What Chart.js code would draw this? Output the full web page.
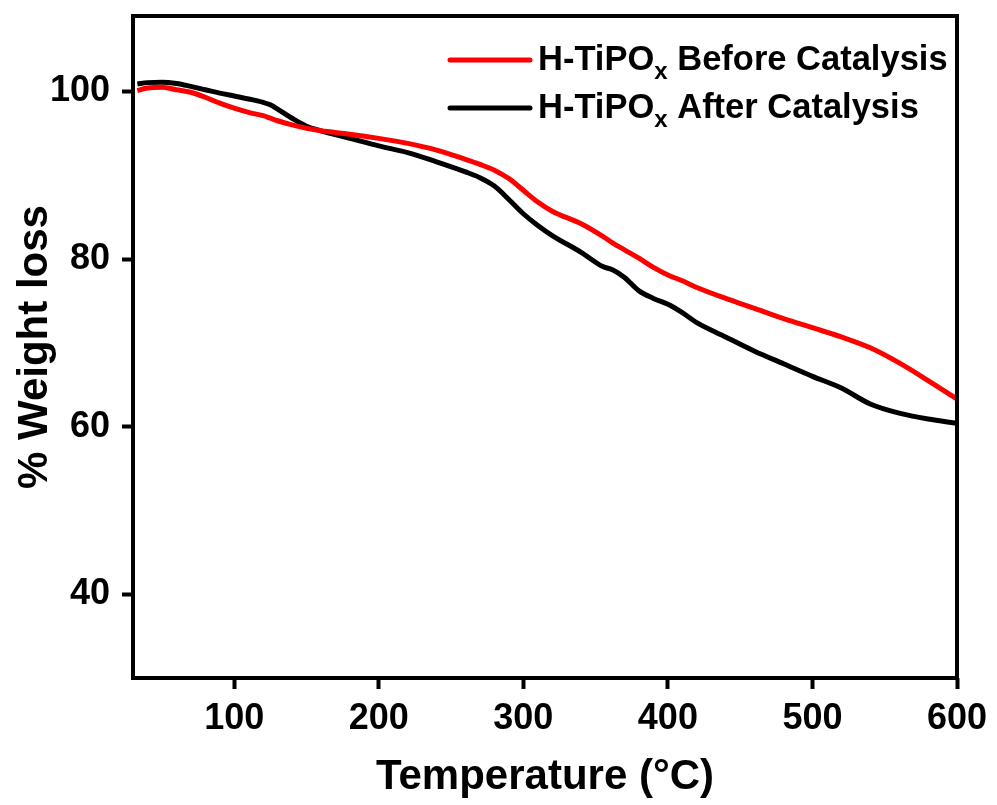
<!DOCTYPE html>
<html>
<head>
<meta charset="utf-8">
<script src="https://cdn.jsdelivr.net/npm/chart.js@4.4.1/dist/chart.umd.min.js"></script>
<style>
  html, body { margin: 0; padding: 0; background: #fff; }
  #wrap { width: 997px; height: 805px; }
</style>
</head>
<body>
<div id="wrap"><canvas id="tga" width="997" height="805"></canvas></div>
<script>
// ---- datos ----
const temperaturas = [33, 40, 50, 60, 70, 80, 90, 100, 110, 120, 125, 130, 140, 150, 160, 180, 200,
    220, 240, 260, 270, 280, 290, 300, 310, 320, 340, 355, 362, 370, 380, 390, 400, 410, 420,
    440, 460, 480, 500, 520, 540, 560, 580, 600];

const pesoAntes = [100.1, 100.4, 100.5, 100.2, 99.9, 99.3, 98.6, 98.0, 97.5, 97.1, 96.8, 96.5, 96.0,
    95.6, 95.3, 94.9, 94.4, 93.8, 93.0, 91.9, 91.3, 90.6, 89.6, 88.2, 86.8, 85.7, 84.2, 82.7,
    81.9, 81.1, 80.1, 79.0, 78.1, 77.4, 76.6, 75.3, 74.1, 72.9, 71.8, 70.7, 69.4, 67.6, 65.5, 63.3];

const pesoDespues = [100.9, 101.05, 101.1, 100.95, 100.6, 100.2, 99.8, 99.45, 99.1, 98.7, 98.4,
    97.9, 96.8, 95.85, 95.3, 94.4, 93.5, 92.7, 91.6, 90.4, 89.7, 88.7, 87.1, 85.4, 84.0, 82.8, 80.8,
    79.1, 78.7, 77.8, 76.2, 75.3, 74.6, 73.6, 72.4, 70.7, 69.0, 67.5, 66.0, 64.6, 62.7, 61.6,
    60.9, 60.4];

const nombresSeries = ['H-TiPO_x Before Catalysis', 'H-TiPO_x After Catalysis'];
const coloresSeries = ['#ff0000', '#000000'];

const ticksX = [100, 200, 300, 400, 500, 600];
const ticksY = [40, 60, 80, 100];

const FUENTE = '"Liberation Sans", Arial, sans-serif';

// ---- marco completo del área de gráfico ----
const marcoPlugin = {
    id: 'marco',
    afterDatasetsDraw(chart) {
        const { ctx, chartArea: a } = chart;
        ctx.save();
        ctx.strokeStyle = '#000';
        ctx.lineWidth = 4;
        ctx.strokeRect(a.left, a.top, a.right - a.left, a.bottom - a.top);
        ctx.restore();
    }
};

// ---- leyenda con subíndice ----
const leyendaPlugin = {
    id: 'leyendaSub',
    afterDraw(chart) {
        const ctx = chart.ctx;
        const x0 = 450, x1 = 530, xt = 538;
        const filas = [60, 108];
        ctx.save();
        ctx.textBaseline = 'middle';
        chart.data.datasets.forEach((ds, i) => {
            const y = filas[i];
            ctx.strokeStyle = ds.borderColor;
            ctx.lineWidth = 5;
            ctx.lineCap = 'round';
            ctx.beginPath();
            ctx.moveTo(x0, y);
            ctx.lineTo(x1, y);
            ctx.stroke();

            const [antes, resto] = ds.label.split('_');
            const sub = resto.charAt(0);
            const despues = resto.slice(1);
            ctx.fillStyle = '#000';
            let x = xt;
            ctx.font = 'bold 34.5px ' + FUENTE;
            ctx.fillText(antes, x, y);
            x += ctx.measureText(antes).width;
            ctx.font = 'bold 24px ' + FUENTE;
            ctx.fillText(sub, x, y + 12);
            x += ctx.measureText(sub).width;
            ctx.font = 'bold 34.5px ' + FUENTE;
            ctx.fillText(despues, x, y);
        });
        ctx.restore();
    }
};

const datasets = [pesoAntes, pesoDespues].map((serie, i) => ({
    label: nombresSeries[i],
    data: temperaturas.map((t, k) => ({ x: t, y: serie[k] })),
    borderColor: coloresSeries[i],
    borderWidth: 5,
    pointRadius: 0,
    fill: false,
    cubicInterpolationMode: 'monotone'
}));

new Chart(document.getElementById('tga').getContext('2d'), {
    type: 'line',
    data: { datasets },
    options: {
        responsive: false,
        animation: false,
        layout: { padding: { top: 16, right: 40, left: 0, bottom: 0 } },
        plugins: {
            legend: { display: false },
            tooltip: { enabled: false }
        },
        scales: {
            x: {
                type: 'linear',
                min: 30,
                max: 600,
                afterBuildTicks: (s) => { s.ticks = ticksX.map(v => ({ value: v })); },
                afterFit: (s) => { s.height = 127; s.paddingLeft = 0; s.paddingRight = 0; },
                border: { display: false },
                grid: { drawOnChartArea: false, drawTicks: true, tickLength: 11, tickWidth: 4, tickColor: '#000' },
                ticks: { color: '#000', padding: 8, maxRotation: 0, font: { family: FUENTE, size: 36, weight: 'bold' } },
                title: {
                    display: true,
                    text: 'Temperature (°C)',
                    color: '#000',
                    padding: { top: 0, bottom: 2 },
                    font: { family: FUENTE, size: 42, weight: 'bold' }
                }
            },
            y: {
                type: 'linear',
                min: 30,
                max: 109,
                afterBuildTicks: (s) => { s.ticks = ticksY.map(v => ({ value: v })); },
                afterFit: (s) => { s.width = 133; s.paddingTop = 0; s.paddingBottom = 0; },
                border: { display: false },
                grid: { drawOnChartArea: false, drawTicks: true, tickLength: 11, tickWidth: 4, tickColor: '#000' },
                ticks: { color: '#000', padding: 12, font: { family: FUENTE, size: 36, weight: 'bold' } },
                title: {
                    display: true,
                    text: '% Weight loss',
                    color: '#000',
                    padding: { top: 10, bottom: 0 },
                    font: { family: FUENTE, size: 42, weight: 'bold' }
                }
            }
        }
    },
    plugins: [marcoPlugin, leyendaPlugin]
});
</script>
</body>
</html>
